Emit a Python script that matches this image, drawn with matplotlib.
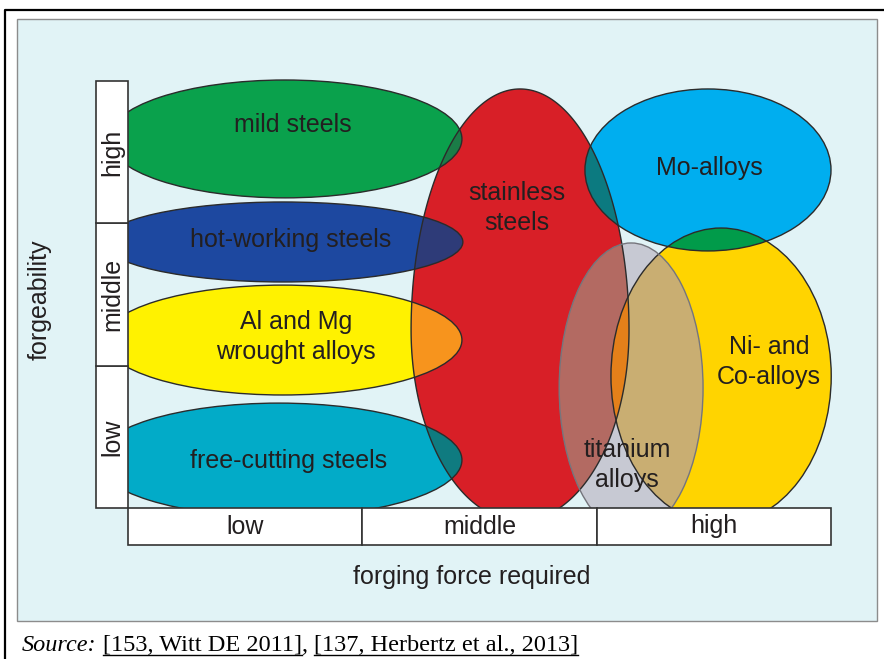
import matplotlib
matplotlib.use("Agg")
import numpy as np
import matplotlib.pyplot as plt
from matplotlib.patches import Ellipse, Rectangle, Polygon

plt.rcParams['font.family'] = ['Liberation Sans', 'DejaVu Sans']

# forgeability / force levels
levels = ['low', 'middle', 'high']

# regions in (force, forgeability) units: 0..3 on each axis
names = ['mild steels', 'hot-working steels', 'Al and Mg\nwrought alloys', 'free-cutting steels',
         'stainless\nsteels', 'Mo-alloys', 'Ni- and\nCo-alloys', 'titanium\nalloys']
cx = [0.670, 0.661, 0.661, 0.644, 1.673, 2.475, 2.531, 2.147]
cy = [2.593, 1.869, 1.180, 0.337, 1.251, 2.375, 0.927, 0.843]
half_w = [0.755, 0.768, 0.764, 0.781, 0.465, 0.525, 0.470, 0.307]
half_top = [0.414, 0.281, 0.386, 0.400, 1.693, 0.569, 1.040, 1.019]   # upper half height
half_bot = [0.414, 0.281, 0.386, 0.400, 1.342, 0.569, 1.040, 1.019]   # lower half height
label_x = [0.704, 0.696, 0.717, 0.687, 1.660, 2.479, 2.736, 2.129]
label_y = [2.691, 1.883, 1.201, 0.330, 2.108, 2.389, 1.026, 0.302]
colors = ['#0aa14c', '#1d48a0', '#fff200', '#02abc8', '#d81f27', '#00aeef', '#ffd400', '#c7c9d3']

# overlap colours: (region drawn, clipped by region, colour)
overlaps = [(0, 4, '#1b7c47'), (1, 4, '#2e3b78'), (2, 4, '#f7941d'), (3, 4, '#0f7b80'),
            (5, 4, '#0c7a80'), (5, 6, '#019b4a')]
ti_overlaps = [(4, 7, '#b36a62'), (6, 7, '#c9ae72'), (6, 4, '#e4801a')]

W, H = 884, 659
fig = plt.figure(figsize=(W / 100, H / 100), dpi=100)

# background axes in pixel coordinates
bg = fig.add_axes([0, 0, 1, 1])
bg.set_xlim(0, W)
bg.set_ylim(H, 0)
bg.axis('off')
bg.plot([5, 5, W], [H, 10, 10], color='black', lw=1.6, solid_capstyle='butt')
bg.add_patch(Rectangle((17, 19), 860, 602, fc='#e1f3f6', ec='#8c8c8c', lw=1))
bg.text(40, 300, 'forgeability', rotation=90, ha='center', va='center', fontsize=18, color='#231f20')
bg.text(472, 577, 'forging force required', ha='center', va='center', fontsize=18, color='#231f20')

# main axes: x 0..3 -> 128..831 px, y 0..3 -> 508..81 px
px_x = (831 - 128) / 3
px_y = (508 - 81) / 3
rect = [128 / W, (H - 508) / H, (870 - 128) / W, (508 - 60) / H]
ax = fig.add_axes(rect)
ax.set_xlim(0, (870 - 128) / px_x)
ax.set_ylim(0, (508 - 60) / px_y)
ax.axis('off')
ax.patch.set_alpha(0)


def shape(i, **kw):
    if half_top[i] == half_bot[i]:
        return Ellipse((cx[i], cy[i]), 2 * half_w[i], 2 * half_top[i], **kw)
    t = np.linspace(0, 2 * np.pi, 400)
    hh = np.where(np.sin(t) > 0, half_top[i], half_bot[i])
    pts = np.column_stack([cx[i] + half_w[i] * np.cos(t), cy[i] + hh * np.sin(t)])
    return Polygon(pts, closed=True, **kw)


base = []
for i in range(len(names)):
    z = 3 if i == 7 else 1
    e = shape(i, fc=colors[i], ec='none', zorder=z)
    ax.add_patch(e)
    base.append(e)

for a, b, c in overlaps:
    p = shape(a, fc=c, ec='none', zorder=2)
    ax.add_patch(p)
    p.set_clip_path(base[b])

for k, (a, b, c) in enumerate(ti_overlaps):
    p = shape(a, fc=c, ec='none', zorder=4 + k // 2)
    ax.add_patch(p)
    p.set_clip_path(base[b])

# outlines
for i in range(len(names)):
    ec = '#75757c' if i == 7 else '#2b2b2b'
    ax.add_patch(shape(i, fc='none', ec=ec, lw=1.0, zorder=6))

for i in range(len(names)):
    ax.text(label_x[i], label_y[i], names[i], ha='center', va='center', fontsize=18,
            color='#231f20', linespacing=1.3, zorder=7)

# level boxes on an overlay axes with the same scale
top = fig.add_axes(rect)
top.set_xlim(ax.get_xlim())
top.set_ylim(ax.get_ylim())
top.axis('off')
top.patch.set_alpha(0)
bw = (128 - 96) / px_x
bh = (545 - 508) / px_y
for k, lev in enumerate(levels):
    top.add_patch(Rectangle((-bw, k), bw, 1, fc='white', ec='#333333', lw=1.2, clip_on=False))
    top.text(-bw / 2, k + 0.5, lev, rotation=90, ha='center', va='center', fontsize=18,
             color='#231f20', clip_on=False)
    top.add_patch(Rectangle((k, -bh), 1, bh, fc='white', ec='#333333', lw=1.2, clip_on=False))
    top.text(k + 0.5, -bh / 2, lev, ha='center', va='center', fontsize=18,
             color='#231f20', clip_on=False)

# source line with underlined references
pieces = [('Source:', 'italic', False), (' ', 'normal', False), ('[153, Witt DE 2011]', 'normal', True),
          (', ', 'normal', False), ('[137, Herbertz et al., 2013]', 'normal', True)]
fig.canvas.draw()
r = fig.canvas.get_renderer()
x = 22
inv = bg.transData.inverted()
for s, style, ul in pieces:
    t = bg.text(x, 651, s, ha='left', va='baseline', fontsize=17.5, family='Liberation Serif',
                style=style, color='black')
    bb = t.get_window_extent(renderer=r)
    (x0, _), (x1, _) = inv.transform([[bb.x0, bb.y0], [bb.x1, bb.y1]])
    if ul:
        bg.plot([x0, x1], [655, 655], color='black', lw=1.0)
    x = x1

fig.savefig('out.png', dpi=100)
